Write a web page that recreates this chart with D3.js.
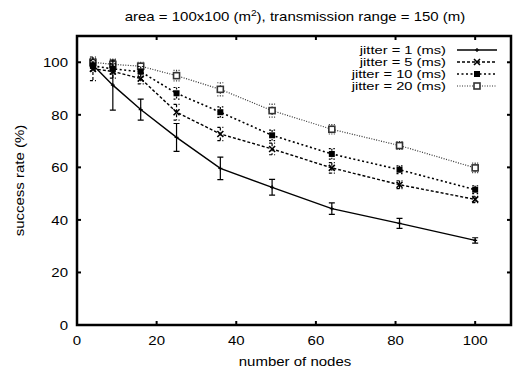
<!DOCTYPE html>
<html>
<head>
<meta charset="utf-8">
<script src="https://cdn.jsdelivr.net/npm/d3@7"></script>
<style>
  body { margin: 0; background: #fff; }
  text { font-family: "Liberation Sans", Arial, sans-serif; fill: #000; }
</style>
</head>
<body>
<script>
// data
var nodes = [4, 9, 16, 25, 36, 49, 64, 81, 100];
var jitter1 = [99, 91.3, 82, 71.4, 59.6, 52.4, 44.3, 38.7, 32.2];
var jitter1Err = [1, 9.5, 4, 5.3, 4.3, 3, 2.2, 1.9, 1];
var jitter5 = [97.5, 96.5, 93.8, 81, 72.7, 67, 59.8, 53.4, 47.8];
var jitter5Err = [4.5, 2.5, 2, 3, 2.5, 2.2, 2, 1.5, 1.2];
var jitter10 = [98.6, 97.5, 96.4, 88.2, 81, 72.2, 65.1, 59.1, 51.5];
var jitter10Err = [2, 2, 2, 2.2, 2, 2, 2, 1.5, 1.5];
var jitter20 = [100, 99.2, 98.5, 94.9, 89.7, 81.6, 74.5, 68.3, 59.8];
var jitter20Err = [1.5, 2, 1.5, 2, 2.5, 2.5, 1.8, 1.5, 1.8];
var legendLabels = ["jitter = 1 (ms)", "jitter = 5 (ms)", "jitter = 10 (ms)", "jitter = 20 (ms)"];
var xTicks = [0, 20, 40, 60, 80, 100];
var yTicks = [0, 20, 40, 60, 80, 100];

var w = 514, h = 373;
var mLeft = 77, mRight = 511, mTop = 36, mBottom = 325;
var fs = 12.5, stretch = 1.2; // text looks horizontally stretched in the original

var x = d3.scaleLinear().domain([0, 109]).range([mLeft, mRight]);
var y = d3.scaleLinear().domain([0, 110]).range([mBottom, mTop]);

var svg = d3.select("body").append("svg")
    .attr("width", w)
    .attr("height", h);

function label(parent, tx, ty, anchor, str, rot, size, sx) {
    var t = parent.append("text")
        .attr("transform", "translate(" + tx + "," + ty + ")" + (rot ? " rotate(" + rot + ")" : "") + " scale(" + (sx || stretch) + ",1)")
        .attr("text-anchor", anchor)
        .attr("font-size", (size || fs) + "px");
    if (str !== null) t.text(str);
    return t;
}

// series styles, gnuplot-ish
var series = [
    {vals: jitter1, err: jitter1Err, dash: null, width: 1.4, color: "#000", mark: "plus"},
    {vals: jitter5, err: jitter5Err, dash: "3,2", width: 1.4, color: "#000", mark: "cross"},
    {vals: jitter10, err: jitter10Err, dash: "2,2.5", width: 1.6, color: "#000", mark: "fsquare"},
    {vals: jitter20, err: jitter20Err, dash: "1,1.5", width: 1.2, color: "#333", mark: "square"}
];

// ticks (inside, mirrored)
var g = svg.append("g");
xTicks.forEach(function (t) {
    if (t === 0) return;
    g.append("line").attr("x1", x(t)).attr("x2", x(t)).attr("y1", mBottom).attr("y2", mBottom - 4)
        .attr("stroke", "#000").attr("stroke-width", 2);
    g.append("line").attr("x1", x(t)).attr("x2", x(t)).attr("y1", mTop).attr("y2", mTop + 4)
        .attr("stroke", "#000").attr("stroke-width", 2);
});
yTicks.forEach(function (t) {
    if (t === 0) return;
    g.append("line").attr("x1", mLeft).attr("x2", mLeft + 4).attr("y1", y(t)).attr("y2", y(t))
        .attr("stroke", "#000").attr("stroke-width", 2);
    g.append("line").attr("x1", mRight).attr("x2", mRight - 4).attr("y1", y(t)).attr("y2", y(t))
        .attr("stroke", "#000").attr("stroke-width", 2);
});

// tick labels
xTicks.forEach(function (d) { label(svg, x(d), mBottom + 20, "middle", d); });
yTicks.forEach(function (d) { label(svg, mLeft - 9, y(d) + 5, "end", d); });

// frame
svg.append("rect")
    .attr("x", mLeft).attr("y", mTop)
    .attr("width", mRight - mLeft).attr("height", mBottom - mTop)
    .attr("fill", "none").attr("stroke", "#000").attr("stroke-width", 2.5);

// titles
var title = label(svg, 295, 21, "middle", null);
title.append("tspan").text("area = 100x100 (m");
title.append("tspan").attr("font-size", "8.5px").attr("dy", -5).text("2");
title.append("tspan").attr("dy", 5).text("), transmission range = 150 (m)");

label(svg, 295, 366, "middle", "number of nodes");
label(svg, 24, (mTop + mBottom) / 2, "middle", "success rate (%)", -90);

function drawMark(sel, kind, cx, cy, color) {
    if (kind === "plus") {
        sel.append("path").attr("d", "M" + (cx - 2) + "," + cy + "h4M" + cx + "," + (cy - 2) + "v4")
            .attr("stroke", color).attr("stroke-width", 1.2);
    } else if (kind === "cross") {
        sel.append("path").attr("d", "M" + (cx - 3) + "," + (cy - 3) + "l6,6M" + (cx - 3) + "," + (cy + 3) + "l6,-6")
            .attr("stroke", color).attr("stroke-width", 1.6);
    } else if (kind === "fsquare") {
        sel.append("rect").attr("x", cx - 3).attr("y", cy - 3).attr("width", 6).attr("height", 6)
            .attr("fill", color);
    } else {
        sel.append("rect").attr("x", cx - 3).attr("y", cy - 3).attr("width", 6).attr("height", 6)
            .attr("fill", "#fff").attr("stroke", color).attr("stroke-width", 1.6);
    }
}

var line = d3.line()
    .x(function (d) { return x(d[0]); })
    .y(function (d) { return y(d[1]); });

// draw from back to front: jitter 20 first
series.slice().reverse().forEach(function (s) {
    var pts = nodes.map(function (n, i) { return [n, s.vals[i], s.err[i]]; });
    var sg = svg.append("g");
    sg.append("path")
        .datum(pts)
        .attr("d", line)
        .attr("fill", "none")
        .attr("stroke", s.color)
        .attr("stroke-width", s.width)
        .attr("stroke-dasharray", s.dash);
    // error bars
    pts.forEach(function (p) {
        var y1 = y(p[1] + p[2]), y2 = y(p[1] - p[2]);
        sg.append("path")
            .attr("d", "M" + x(p[0]) + "," + y1 + "V" + y2 +
                "M" + (x(p[0]) - 3) + "," + y1 + "h6M" + (x(p[0]) - 3) + "," + y2 + "h6")
            .attr("fill", "none")
            .attr("stroke", s.color)
            .attr("stroke-width", 1.2)
            .attr("stroke-dasharray", s.dash);
        drawMark(sg, s.mark, x(p[0]), y(p[1]), s.color);
    });
});

// legend
var lg = svg.append("g");
legendLabels.forEach(function (lab, i) {
    var s = series[i];
    var ly = 50 + i * 12;
    label(lg, 446, ly + 4, "end", lab, 0, 11.5, 1.28);
    lg.append("line")
        .attr("x1", 457).attr("x2", 497).attr("y1", ly).attr("y2", ly)
        .attr("stroke", s.color)
        .attr("stroke-width", s.width)
        .attr("stroke-dasharray", s.dash);
    drawMark(lg, s.mark, 477, ly, s.color);
});
</script>
</body>
</html>
